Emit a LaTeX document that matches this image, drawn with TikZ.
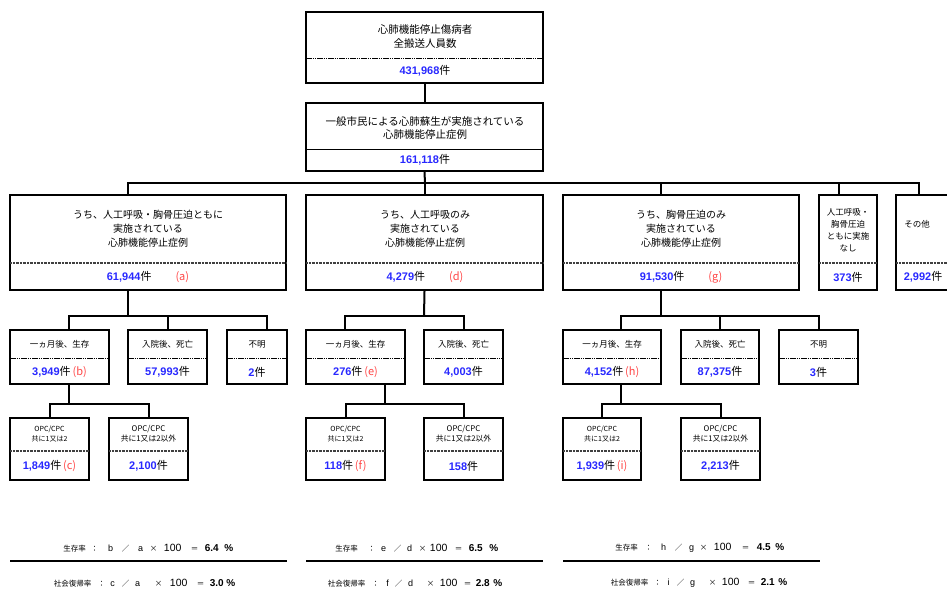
\documentclass[tikz,border=0pt]{standalone}
\usepackage{fontspec}
\setmainfont{Noto Sans CJK JP}
\newfontfamily\numf{Liberation Sans}
\usetikzlibrary{fit}
\definecolor{nblue}{RGB}{40,40,255}
\definecolor{lred}{RGB}{255,70,70}
\newcommand\nb[1]{{\numf\bfseries\color{nblue}#1}}
\newcommand\lb[1]{{\color{lred}#1}}
\newcommand\bn[1]{{\numf\bfseries\fontsize{10}{11}\selectfont #1}}
\newcommand\ltr[1]{{\numf\fontsize{9}{10}\selectfont #1}}
\newcommand\hn[1]{{\numf\fontsize{10.5}{11}\selectfont #1}}
\newcommand\tk[2]{\rlap{\hspace*{#1pt}\makebox[0pt][c]{#2}}}
% name, x1, y1, x2, y2, divider y, divider style
\newcommand\Bx[7]{\node[box, fit={(#2,#3)(#4,#5)}] (#1) {};\draw[#7] (#2,#6) -- (#4,#6);}
\begin{document}
\begin{tikzpicture}[x=1pt,y=-1pt,
  box/.style={draw, line width=2pt, inner sep=0pt},
  conn/.style={line width=2pt},
  dvthin/.style={line width=0.5pt, dash pattern=on 1.5pt off 0.7pt},
  dvsolid/.style={line width=0.6pt},
  dvthick/.style={line width=1.6pt, black!75, dash pattern=on 0.9pt off 0.5pt},
  tA/.style={align=center, inner sep=0pt, font=\fontsize{10.5}{14}\selectfont},
  tB/.style={align=center, inner sep=0pt, font=\fontsize{10.5}{12.5}\selectfont},
  tC/.style={align=center, inner sep=0pt, font=\fontsize{10}{14}\selectfont},
  tN/.style={align=center, inner sep=0pt, font=\fontsize{8.5}{12}\selectfont},
  tD/.style={align=center, inner sep=0pt, font=\fontsize{8.5}{10}\selectfont},
  tE/.style={align=center, inner sep=0pt, font=\fontsize{7}{10}\selectfont},
  tE2/.style={align=center, inner sep=0pt, font=\fontsize{7.8}{10}\selectfont},
  num/.style={inner sep=0pt, font=\fontsize{11}{12}\selectfont},
  fm/.style={inner sep=0pt, anchor=west, font=\fontsize{7.5}{9}\selectfont},
  rule/.style={line width=2.5pt}
]
\useasboundingbox (0,0) rectangle (947,595);

% ---------- level 1 & 2 ----------
\Bx{n1}{306}{12}{543}{83}{58}{dvthin}
\node[tA] (n1t) at (425,37) {心肺機能停止傷病者\\全搬送人員数};
\node[num] (n1n) at (425,71) {\nb{431,968}件};

\Bx{n2}{306}{103}{543}{171}{149}{dvsolid}
\node[tB] (n2t) at (425,128) {一般市民による心肺蘇生が実施されている\\心肺機能停止症例};
\node[num] (n2n) at (425,160) {\nb{161,118}件};

\draw[conn] (n1.south) -- (n2.north);

% ---------- level 3 ----------
\Bx{nA}{10}{195}{286}{290}{263}{dvthick}
\node[tC] (nAt) at (148,229) {うち、人工呼吸・胸骨圧迫ともに\\実施されている\\心肺機能停止症例};
\node[num] (nAn) at (148,277) {\nb{61,944}件\hspace{24pt}\lb{(a)}};

\Bx{nD}{306}{195}{543}{290}{263}{dvthick}
\node[tC] (nDt) at (425,229) {うち、人工呼吸のみ\\実施されている\\心肺機能停止症例};
\node[num] (nDn) at (425,277) {\nb{4,279}件\hspace{24pt}\lb{(d)}};

\Bx{nG}{563}{195}{799}{290}{263}{dvthick}
\node[tC] (nGt) at (681,229) {うち、胸骨圧迫のみ\\実施されている\\心肺機能停止症例};
\node[num] (nGn) at (681,277) {\nb{91,530}件\hspace{24pt}\lb{(g)}};

\Bx{nN}{819}{195}{877}{290}{263}{dvthick}
\node[tN] (nNt) at (848,230) {人工呼吸・\\胸骨圧迫\\ともに実施\\なし};
\node[num] (nNn) at (848,277) {\nb{373}件};

\Bx{nO}{896}{195}{955}{290}{263}{dvthick}
\node[tN] (nOt) at (917,224) {その他};
\node[num] (nOn) at (923,277) {\nb{2,992}件};

\coordinate (bus1) at (425,183);
\draw[conn] (n2.south) -- (bus1);
\draw[conn] ([xshift=-20pt]nA.north) |- (bus1) -| ([xshift=-7pt]nO.north);
\draw[conn] (nD.north) -- (nD.north |- bus1);
\draw[conn] ([xshift=-20pt]nG.north) -- ([xshift=-20pt]nG.north |- bus1);
\draw[conn] ([xshift=-9pt]nN.north) -- ([xshift=-9pt]nN.north |- bus1);

% ---------- level 4 ----------
\Bx{nAb}{10}{330}{109}{384}{358}{dvthin}
\node[tD] (nAbt) at (59.5,344) {一ヵ月後、生存};
\node[num] (nAbn) at (59.5,372) {\nb{3,949}件\,\lb{(b)}};
\Bx{nAd}{128}{330}{207}{384}{358}{dvthin}
\node[tD] (nAdt) at (167.5,344) {入院後、死亡};
\node[num] (nAdn) at (167.5,372) {\nb{57,993}件};
\Bx{nAu}{227}{330}{287}{384}{358}{dvthin}
\node[tD] (nAut) at (257,344) {不明};
\node[num] (nAun) at (257,372) {\nb{2}件};

\coordinate (busA) at (128,316);
\draw[conn] ([xshift=-20pt]nA.south) -- (busA);
\draw[conn] ([xshift=9.5pt]nAb.north) |- (busA) -| ([xshift=10pt]nAu.north);
\draw[conn] (nAd.north) -- (nAd.north |- busA);

\Bx{nDe}{306}{330}{405}{384}{358}{dvthin}
\node[tD] (nDet) at (355.5,344) {一ヵ月後、生存};
\node[num] (nDen) at (355.5,372) {\nb{276}件\,\lb{(e)}};
\Bx{nDd}{424}{330}{503}{384}{358}{dvthin}
\node[tD] (nDdt) at (463.5,344) {入院後、死亡};
\node[num] (nDdn) at (463.5,372) {\nb{4,003}件};

\coordinate (busD) at (424,316);
\draw[conn] (nD.south) -- (busD);
\draw[conn] ([xshift=-10.5pt]nDe.north) |- (busD) -| (nDd.north);

\Bx{nGh}{563}{330}{661}{384}{358}{dvthin}
\node[tD] (nGht) at (612,344) {一ヵ月後、生存};
\node[num] (nGhn) at (612,372) {\nb{4,152}件\,\lb{(h)}};
\Bx{nGd}{681}{330}{759}{384}{358}{dvthin}
\node[tD] (nGdt) at (720,344) {入院後、死亡};
\node[num] (nGdn) at (720,372) {\nb{87,375}件};
\Bx{nGu}{779}{330}{858}{384}{358}{dvthin}
\node[tD] (nGut) at (818.5,344) {不明};
\node[num] (nGun) at (818.5,372) {\nb{3}件};

\coordinate (busG) at (661,316);
\draw[conn] ([xshift=-20pt]nG.south) -- (busG);
\draw[conn] ([xshift=9pt]nGh.north) |- (busG) -| (nGu.north);
\draw[conn] (nGd.north) -- (nGd.north |- busG);

% ---------- level 5 ----------
\Bx{nAc}{10}{418}{89}{480}{451}{dvthick}
\node[tE] (nAct) at (49.5,434) {OPC/CPC\\共に1又は2};
\node[num] (nAcn) at (49.5,466) {\nb{1,849}件\,\lb{(c)}};
\Bx{nAc2}{109}{418}{188}{480}{451}{dvthick}
\node[tE2] (nAc2t) at (148.5,434) {OPC/CPC\\共に1又は2以外};
\node[num] (nAc2n) at (148.5,466) {\nb{2,100}件};
\coordinate (busAc) at (69,404);
\draw[conn] ([xshift=9.5pt]nAb.south) -- (busAc);
\draw[conn] (nAc.north) |- (busAc) -| (nAc2.north);

\Bx{nDf}{306}{418}{385}{480}{451}{dvthick}
\node[tE] (nDft) at (345.5,434) {OPC/CPC\\共に1又は2};
\node[num] (nDfn) at (345.5,466) {\nb{118}件\,\lb{(f)}};
\Bx{nDf2}{424}{418}{503}{480}{451}{dvthick}
\node[tE2] (nDf2t) at (463.5,434) {OPC/CPC\\共に1又は2以外};
\node[num] (nDf2n) at (463.5,466) {\nb{158}件};
\coordinate (busDf) at (385,404);
\draw[conn] ([xshift=29.5pt]nDe.south) -- (busDf);
\draw[conn] (nDf.north) |- (busDf) -| (nDf2.north);

\Bx{nGi}{563}{418}{641}{480}{451}{dvthick}
\node[tE] (nGit) at (602,434) {OPC/CPC\\共に1又は2};
\node[num] (nGin) at (602,466) {\nb{1,939}件\,\lb{(i)}};
\Bx{nGi2}{681}{418}{760}{480}{451}{dvthick}
\node[tE2] (nGi2t) at (720.5,434) {OPC/CPC\\共に1又は2以外};
\node[num] (nGi2n) at (720.5,466) {\nb{2,213}件};
\coordinate (busGi) at (621,404);
\draw[conn] ([xshift=9pt]nGh.south) -- (busGi);
\draw[conn] (nGi.north) |- (busGi) -| (nGi2.north);

% ---------- formulas ----------
\node[fm] (fA1) at (74,548) {\tk{0}{生存率}\tk{20}{：}\tk{36}{\ltr{b}}\tk{51}{／}\tk{66}{\ltr{a}}\tk{79}{×}\tk{98}{\hn{100}}\tk{120}{＝}\tk{137}{\bn{6.4}}\tk{154}{\bn{\%}}};
\draw[rule] (10,561) -- (287,561);
\node[fm] (fA2) at (72,583) {\tk{0}{社会復帰率}\tk{29}{：}\tk{40}{\ltr{c}}\tk{53}{／}\tk{65}{\ltr{a}}\tk{86}{×}\tk{106}{\hn{100}}\tk{128}{＝}\tk{144}{\bn{3.0}}\tk{158}{\bn{\%}}};

\node[fm] (fD1) at (346,548) {\tk{0}{生存率}\tk{25}{：}\tk{37}{\ltr{e}}\tk{51}{／}\tk{63}{\ltr{d}}\tk{76}{×}\tk{92}{\hn{100}}\tk{112}{＝}\tk{129}{\bn{6.5}}\tk{147}{\bn{\%}}};
\draw[rule] (306,561) -- (543,561);
\node[fm] (fD2) at (346,583) {\tk{0}{社会復帰率}\tk{29}{：}\tk{41}{\ltr{f}}\tk{52}{／}\tk{64}{\ltr{d}}\tk{84}{×}\tk{102}{\hn{100}}\tk{121}{＝}\tk{136}{\bn{2.8}}\tk{151}{\bn{\%}}};

\node[fm] (fG1) at (626,548) {\tk{0}{生存率}\tk{22}{：}\tk{37}{\ltr{h}}\tk{52}{／}\tk{65}{\ltr{g}}\tk{77}{×}\tk{96}{\hn{100}}\tk{119}{＝}\tk{137}{\bn{4.5}}\tk{153}{\bn{\%}}};
\draw[rule] (563,561) -- (820,561);
\node[fm] (fG2) at (629,583) {\tk{0}{社会復帰率}\tk{28}{：}\tk{39}{\ltr{i}}\tk{51}{／}\tk{63}{\ltr{g}}\tk{83}{×}\tk{101}{\hn{100}}\tk{122}{＝}\tk{138}{\bn{2.1}}\tk{153}{\bn{\%}}};
\end{tikzpicture}
\end{document}
